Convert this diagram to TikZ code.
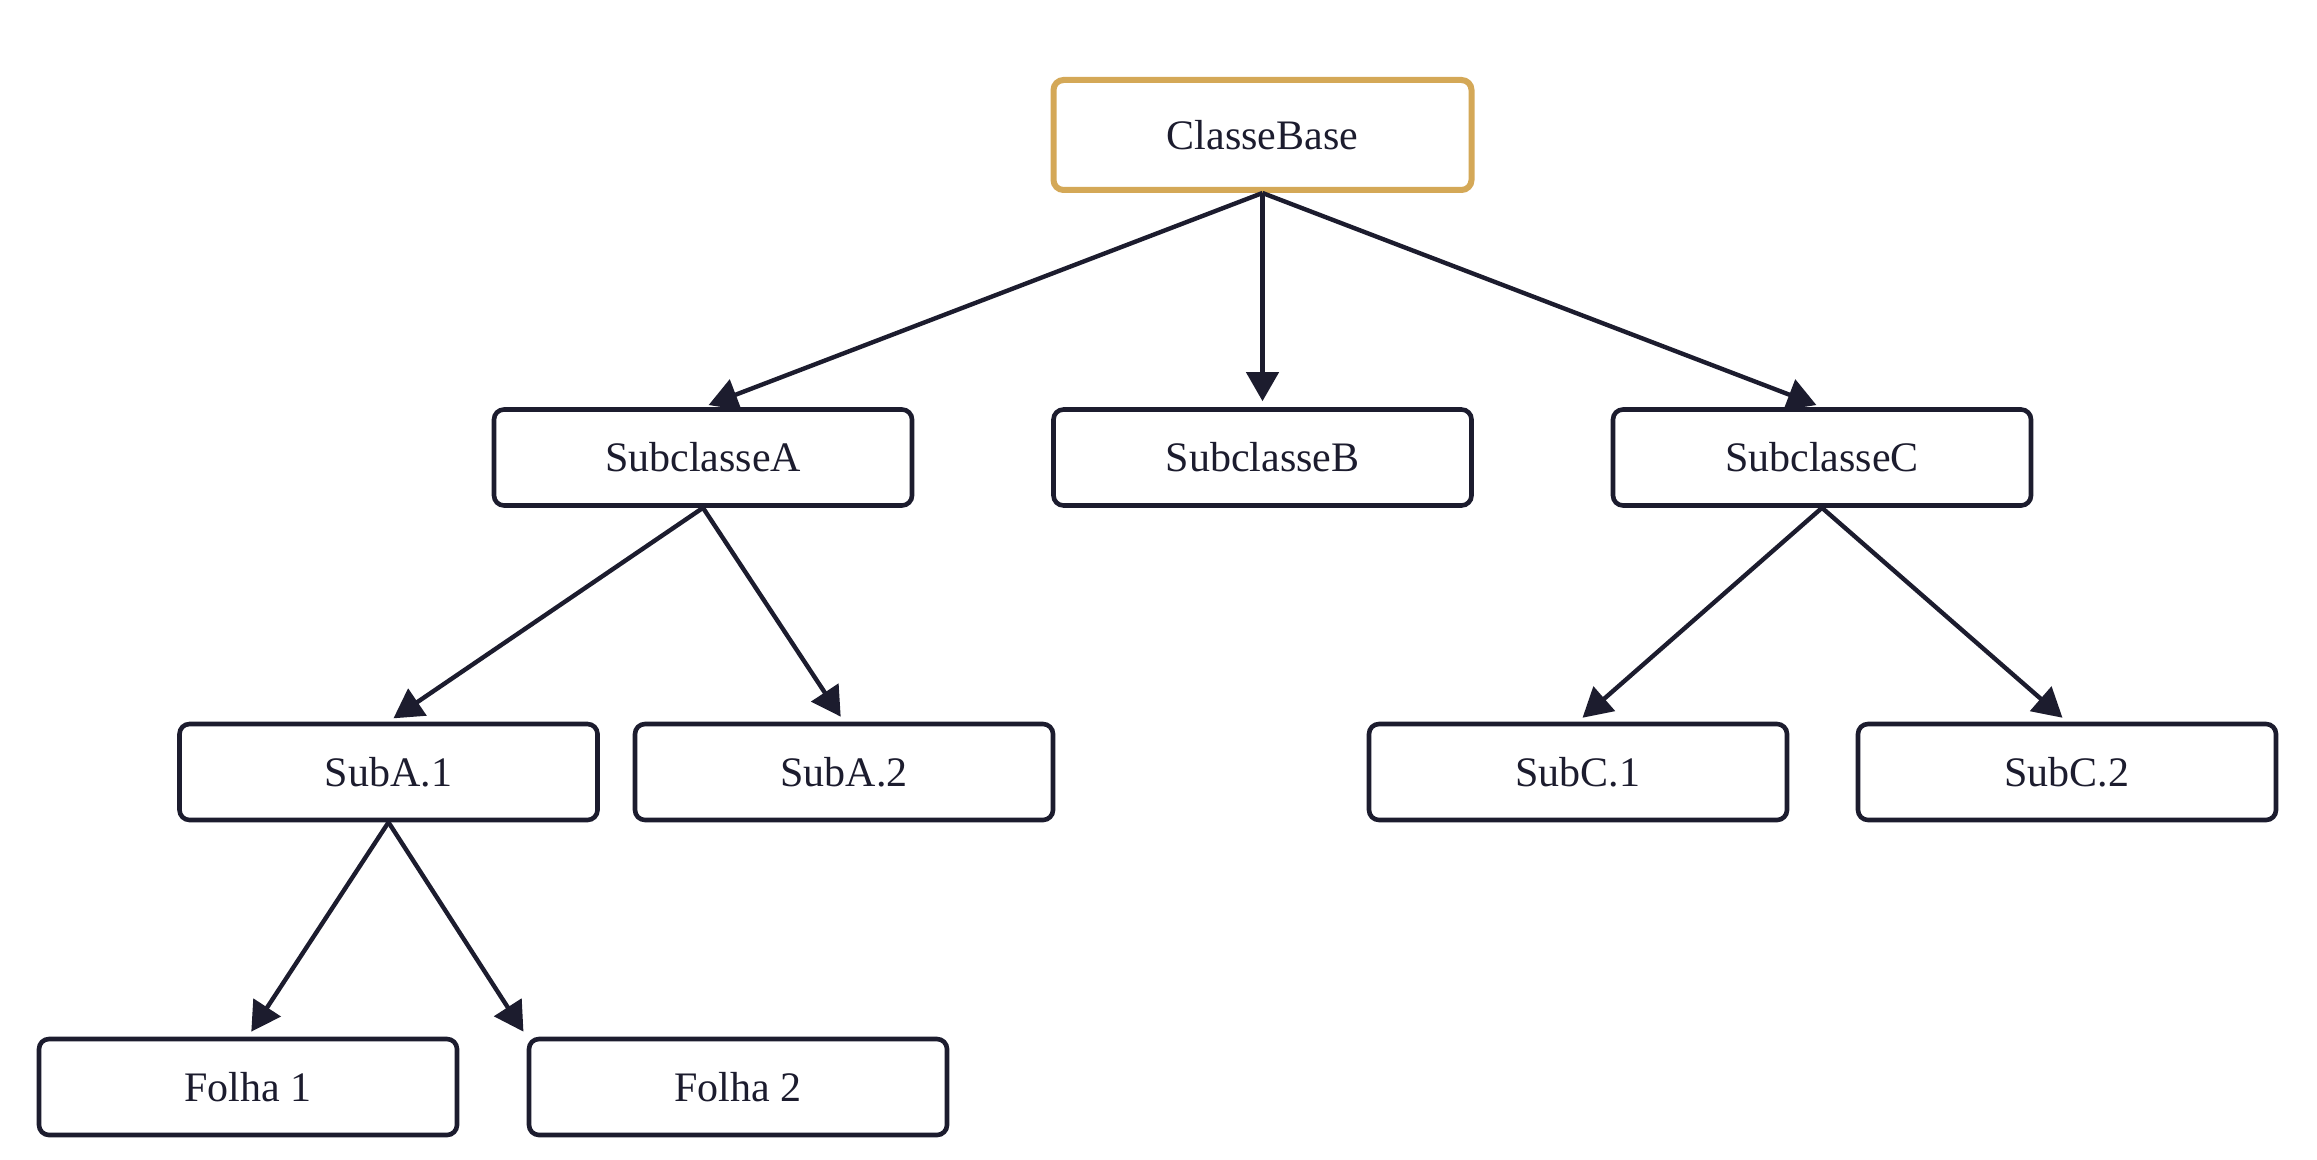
\documentclass[tikz,border=0pt]{standalone}
\usepackage{fontspec}
\setmainfont{Liberation Serif}
\usetikzlibrary{arrows.meta}
\definecolor{ink}{HTML}{1C1C2E}
\definecolor{gold}{HTML}{D4A857}
\tikzset{
  cls/.style={draw=ink, line width=2.3pt, rounded corners=5pt, fill=white,
    minimum width=209pt, minimum height=48pt, inner sep=0pt,
    text=ink, font=\fontsize{21}{25}\selectfont},
  rootcls/.style={cls, draw=gold, line width=3pt, minimum height=55pt},
  inherit/.style={draw=ink, line width=2.2pt, shorten >=3pt,
    -{Triangle[length=14.5pt,width=16pt]}}
}
\begin{document}
\begin{tikzpicture}[x=0.5pt,y=-0.5pt]
\useasboundingbox (0,0) rectangle (2317,1160);
\node[rootcls] (base) at (1262.5,135) {ClasseBase};
\node[cls] (a) at (703,457.5) {SubclasseA};
\node[cls] (b) at (1262.5,457.5) {SubclasseB};
\node[cls] (c) at (1822,457.5) {SubclasseC};
\node[cls] (a1) at (388.5,772) {SubA.1};
\node[cls] (a2) at (844,772) {SubA.2};
\node[cls] (c1) at (1578,772) {SubC.1};
\node[cls] (c2) at (2067,772) {SubC.2};
\node[cls] (f1) at (248,1087) {Folha 1};
\node[cls] (f2) at (738,1087) {Folha 2};
\draw[inherit] (base.south) -- (a.north);
\draw[inherit] (base.south) -- (b.north);
\draw[inherit] (base.south) -- (c.north);
\draw[inherit] (a.south) -- (a1.north);
\draw[inherit] (a.south) -- (a2.north);
\draw[inherit] (c.south) -- (c1.north);
\draw[inherit] (c.south) -- (c2.north);
\draw[inherit] (a1.south) -- (f1.north);
\draw[inherit] (a1.south) -- (f2.north west);
\end{tikzpicture}
\end{document}
